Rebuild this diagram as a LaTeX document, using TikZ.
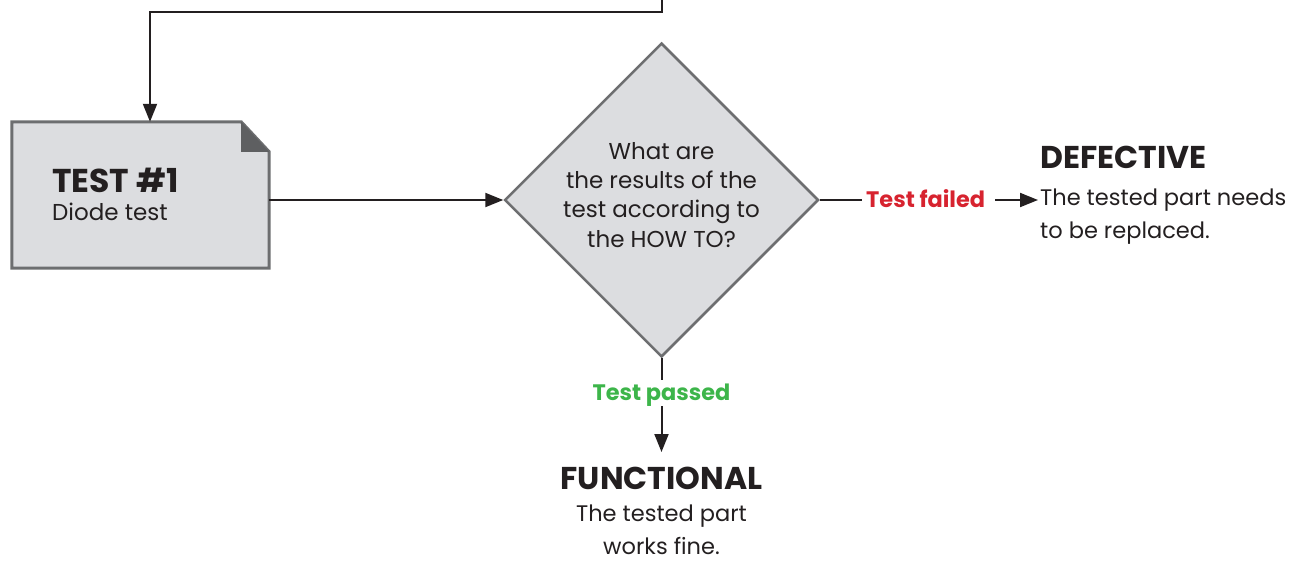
\documentclass[tikz,border=0pt]{standalone}
\usepackage{fontspec}
\setmainfont{Poppins}
\usetikzlibrary{arrows.meta,shapes.geometric,calc}
\definecolor{ink}{HTML}{231F20}
\definecolor{boxfill}{HTML}{DCDDE0}
\definecolor{boxline}{HTML}{6D6E70}
\definecolor{foldgrey}{HTML}{5E5F61}
\definecolor{failred}{HTML}{D7232F}
\definecolor{passgreen}{HTML}{3DB54A}
\tikzset{
  conn/.style={draw=ink, line width=2pt},
  arr/.style={conn, -{Triangle[length=18pt,width=14pt]}},
  body/.style={text=ink, inner sep=0pt, font=\fontsize{22.5}{33}\selectfont},
  head/.style={text=ink, inner sep=0pt, font=\fontsize{31.5}{34}\selectfont\bfseries},
  outcome/.style={inner sep=0pt, font=\fontsize{22.4}{26}\selectfont\bfseries},
}
\begin{document}
\begin{tikzpicture}[x=1pt,y=-1pt]
\useasboundingbox (0,0) rectangle (1289,560);

% test card with folded corner
\node[minimum width=257pt, minimum height=146pt, inner sep=0pt] (box) at (140.5,195) {};
\filldraw[fill=boxfill, draw=boxline, line width=3pt, line join=miter]
  (box.north west) -- ($(box.north east)+(-28,0)$) -- ($(box.north east)+(0,30)$)
  -- (box.south east) -- (box.south west) -- cycle;
\fill[foldgrey] ($(box.north east)+(-28,0)$) -- ($(box.north east)+(-28,30)$) -- ($(box.north east)+(0,30)$) -- cycle;
\node[head, anchor=base west, font=\fontsize{33}{36}\selectfont\bfseries] (t1) at (52,192) {TEST \#1};
\node[body, anchor=base west, font=\fontsize{23}{28}\selectfont] (t1sub) at (52,220) {Diode test};

% decision
\node[diamond, fill=boxfill, draw=boxline, line width=2.5pt, minimum width=314pt, minimum height=314pt, inner sep=0pt] (dec) at (661.5,200) {};
\node[body, align=center, anchor=base, font=\fontsize{23}{29.2}\selectfont] (q) at (661.5,247)
  {What are\\the results of the\\test according to\\the HOW TO?};

% incoming connector from above
\coordinate (top) at (662,0);
\draw[arr] (top) -- (662,12) -| ([xshift=9.5pt]box.north);
\draw[arr] (box.east |- dec.west) -- (dec.west);

% failed branch
\node[outcome, text=failred, anchor=base west] (fail) at (866,207) {Test failed};
\node[head, anchor=base west] (def) at (1040,168) {DEFECTIVE};
\node[body, anchor=base west, align=left] (deftxt) at (1040,238) {The tested part needs\\to be replaced.};
\draw[conn] (dec.east) -- ([xshift=-4pt]fail.west |- dec.east);
\draw[arr] ([xshift=10pt]fail.east |- dec.east) -- ([xshift=-2pt]deftxt.west |- dec.east);

% passed branch
\node[outcome, text=passgreen, anchor=base] (pass) at (661.5,400) {Test passed};
\node[head, anchor=base] (fun) at (661.5,489) {FUNCTIONAL};
\node[body, anchor=base, align=center] (funtxt) at (661.5,554) {The tested part\\works fine.};
\coordinate (passtop) at (661.5,380);
\coordinate (passbot) at (661.5,406);
\coordinate (funtop) at (661.5,452);
\draw[conn] (dec.south) -- (passtop);
\draw[arr] (passbot) -- (funtop);
\end{tikzpicture}
\end{document}
